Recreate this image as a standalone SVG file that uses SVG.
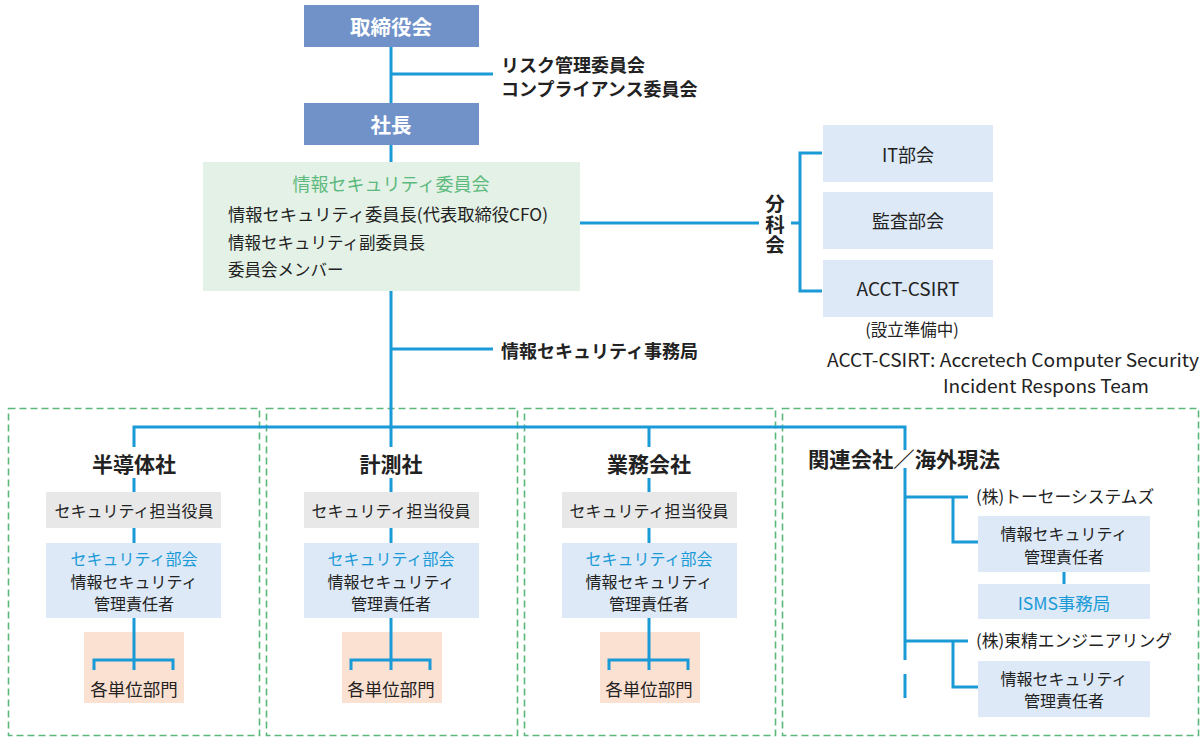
<svg xmlns="http://www.w3.org/2000/svg" width="1204" height="741" viewBox="0 0 1204 741">
<style>
text{font-family:"Noto Sans CJK JP","Noto Sans",sans-serif;fill:#222;dominant-baseline:central}
.c{text-anchor:middle}
.b{font-weight:bold}
.w{fill:#fff}
.top{fill:#7092c9}
.grn{fill:#e4f1e6}
.blu{fill:#dde9f6}
.gry{fill:#e8e8e8}
.pch{fill:#fbe1d2}
.dash{fill:none;stroke:#5cb87a;stroke-width:1.6;stroke-dasharray:7 4}
.ln{fill:none;stroke:#1a9ad6;stroke-width:3}
.bt{fill:#1a9ad6}
.gt{fill:#5dba7e}
</style>
<g id="frames">
<rect class="dash" x="8.5" y="408.5" width="251" height="327"/>
<rect class="dash" x="266.5" y="408.5" width="251" height="327"/>
<rect class="dash" x="524.5" y="408.5" width="251" height="327"/>
<rect class="dash" x="782.5" y="408.5" width="416" height="327"/>
</g>
<g id="n-board"><rect class="top" x="304" y="5" width="175" height="42"/><text class="c b w" x="391" y="26" font-size="20.5">取締役会</text></g>
<g id="n-risk"><text class="b" x="501" y="64" font-size="18">リスク管理委員会</text><text class="b" x="501" y="88" font-size="18">コンプライアンス委員会</text></g>
<g id="n-president"><rect class="top" x="304" y="103" width="175" height="42"/><text class="c b w" x="391" y="124" font-size="20.5">社長</text></g>
<g id="n-committee"><rect class="grn" x="203" y="162" width="377" height="129"/>
<text class="c gt" x="391" y="183" font-size="18">情報セキュリティ委員会</text>
<text x="228" y="214" font-size="16.8" textLength="320" lengthAdjust="spacingAndGlyphs">情報セキュリティ委員長(代表取締役CFO)</text>
<text x="228" y="242" font-size="16.5">情報セキュリティ副委員長</text>
<text x="228" y="269" font-size="16.5">委員会メンバー</text></g>
<g id="n-bunkakai"><text class="c b" x="775" y="225" font-size="19.5" writing-mode="vertical-rl" letter-spacing="1">分科会</text></g>
<g id="n-it"><rect class="blu" x="823" y="125" width="170" height="57"/><text class="c" x="908" y="154" font-size="18">IT部会</text></g>
<g id="n-audit"><rect class="blu" x="823" y="192" width="170" height="57"/><text class="c" x="908" y="220" font-size="18">監査部会</text></g>
<g id="n-csirt"><rect class="blu" x="823" y="260" width="170" height="57"/><text class="c" x="908" y="288" font-size="18" textLength="103" lengthAdjust="spacingAndGlyphs">ACCT-CSIRT</text>
<text class="c" x="912" y="329" font-size="16.5">(設立準備中)</text>
<text x="827" y="359" font-size="18" textLength="372" lengthAdjust="spacingAndGlyphs">ACCT-CSIRT: Accretech Computer Security</text>
<text x="943" y="385" font-size="18" textLength="206" lengthAdjust="spacingAndGlyphs">Incident Respons Team</text></g>
<g id="n-office"><text class="b" x="501" y="350" font-size="18">情報セキュリティ事務局</text></g>
<g id="n-semi">
<text class="c b" x="134" y="463" font-size="21">半導体社</text>
<rect class="gry" x="46" y="492" width="175" height="36"/><text class="c" x="134" y="510" font-size="16">セキュリティ担当役員</text>
<rect class="blu" x="46" y="543" width="175" height="75"/><text class="c bt" x="134" y="558" font-size="16">セキュリティ部会</text><text class="c" x="134" y="581" font-size="16">情報セキュリティ</text><text class="c" x="134" y="603" font-size="16">管理責任者</text>
<rect class="pch" x="84" y="632" width="100" height="71"/>
<text class="c" x="134" y="688" font-size="17.5">各単位部門</text></g>
<g id="n-metro">
<text class="c b" x="391" y="463" font-size="21">計測社</text>
<rect class="gry" x="304" y="492" width="175" height="36"/><text class="c" x="391" y="510" font-size="16">セキュリティ担当役員</text>
<rect class="blu" x="304" y="543" width="175" height="75"/><text class="c bt" x="391" y="558" font-size="16">セキュリティ部会</text><text class="c" x="391" y="581" font-size="16">情報セキュリティ</text><text class="c" x="391" y="603" font-size="16">管理責任者</text>
<rect class="pch" x="342" y="632" width="100" height="71"/>
<text class="c" x="391" y="688" font-size="17.5">各単位部門</text></g>
<g id="n-business">
<text class="c b" x="649" y="463" font-size="21">業務会社</text>
<rect class="gry" x="562" y="492" width="175" height="36"/><text class="c" x="649" y="510" font-size="16">セキュリティ担当役員</text>
<rect class="blu" x="562" y="543" width="175" height="75"/><text class="c bt" x="649" y="558" font-size="16">セキュリティ部会</text><text class="c" x="649" y="581" font-size="16">情報セキュリティ</text><text class="c" x="649" y="603" font-size="16">管理責任者</text>
<rect class="pch" x="600" y="632" width="100" height="71"/>
<text class="c" x="649" y="688" font-size="17.5">各単位部門</text></g>
<g id="n-affiliates">
<text class="b" x="808" y="458" font-size="21" textLength="192" lengthAdjust="spacingAndGlyphs">関連会社／海外現法</text>
<text x="976" y="496" font-size="16.8">(株)トーセーシステムズ</text>
<rect class="blu" x="978" y="516" width="172" height="56"/><text class="c" x="1064" y="533" font-size="16">情報セキュリティ</text><text class="c" x="1064" y="556" font-size="16">管理責任者</text>
<rect class="blu" x="978" y="584" width="172" height="35"/><text class="c bt" x="1064" y="602" font-size="17.5">ISMS事務局</text>
<text x="976" y="640" font-size="16.8">(株)東精エンジニアリング</text>
<rect class="blu" x="978" y="661" width="172" height="56"/><text class="c" x="1064" y="678" font-size="16">情報セキュリティ</text><text class="c" x="1064" y="700" font-size="16">管理責任者</text></g>
<g id="connectors">
<path class="ln" d="M391 47V103M391 74H493M391 145V162M391 291V447M391 349H493M580 223H759M791 223H800M822 153H800V291H822"/>
<path class="ln" d="M134 447V427H905V450M905 468V660M905 674V698"/>
<path class="ln" d="M134 478V492M134 528V543M134 618V670M94 670V660H173V670"/>
<path class="ln" d="M391 478V492M391 528V543M391 618V670M351 670V660H430V670"/>
<path class="ln" d="M649 427V447M649 478V492M649 528V543M649 618V670M609 670V660H688V670"/>
<path class="ln" d="M905 497H968M953 497V542H978M905 641H968M953 641V687H978M1064 572V584"/>
</g>
</svg>
